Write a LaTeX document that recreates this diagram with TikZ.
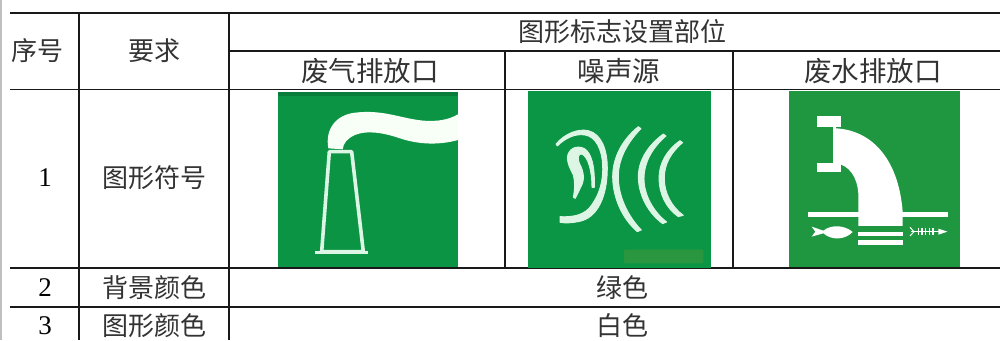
\documentclass[tikz,border=0pt]{standalone}
\usepackage{fontspec}
\setmainfont{Liberation Serif}
\newfontfamily\cjk{Noto Sans CJK SC}
\definecolor{signa}{HTML}{0B9444}
\definecolor{signb}{HTML}{0A9644}
\definecolor{signc}{HTML}{1F9741}
\definecolor{softw}{HTML}{DDF5E4}
\definecolor{dimbar}{HTML}{2A963F}
\tikzset{
  x=1pt,y=-1pt,
  rule/.style={line width=1.4pt,color=black!90},
  cell/.style={inner sep=0pt,font=\fontsize{26}{28}\selectfont\cjk,text=black!80},
  wide/.style={inner sep=0pt,font=\fontsize{27.5}{30}\selectfont\cjk,text=black!80},
  num/.style={inner sep=0pt,font=\fontsize{27}{29}\selectfont,text=black},
  zoomed/.style={x=0.3333pt,y=-0.3333pt},
  earpart/.style={fill=softw,draw=softw,line width=0.9pt,line join=round},
}
\begin{document}
\begin{tikzpicture}
\useasboundingbox (0,0) rectangle (1000,340);
\fill[white] (0,0) rectangle (1000,340);
\fill[black!25] (0,0) rectangle (1.5,340);
% table rules
\draw[rule] (10,13) -- (1000,13);
\draw[rule] (229,51) -- (1000,51);
\draw[rule] (10,89.5) -- (1000,89.5);
\draw[rule] (10,268) -- (1000,268);
\draw[rule] (10,307) -- (1000,307);
\draw[rule] (79,13) -- (79,340);
\draw[rule] (229,13) -- (229,340);
\draw[rule] (505,51) -- (505,268);
\draw[rule] (733,51) -- (733,268);
% sign 1: chimney
\begin{scope}[shift={(260,80)},zoomed]
\fill[signa] (54,36) rectangle (594,560);
\fill[black!45!signa,opacity=.35] (54,36) rectangle (594,48);
\fill[white!97!green] (205,205) .. controls (195,150) and (225,105) .. (285,98)
  .. controls (370,88) and (420,115) .. (490,122)
  .. controls (530,125) and (565,120) .. (594,103)
  -- (594,180) .. controls (540,195) and (480,195) .. (420,175)
  .. controls (370,158) and (320,150) .. (285,165)
  .. controls (262,175) and (250,190) .. (248,208) -- cycle;
\draw[softw,line width=3.6pt,line join=round] (208,215) -- (275,215) -- (310,515) -- (185,515) -- cycle;
\draw[softw,line width=3.6pt] (165,517) -- (325,517);
\end{scope}
% sign 2: ear and sound arcs
\begin{scope}[shift={(510,80)},zoomed]
\fill[signb] (54,32) rectangle (603,563);
\fill[dimbar,rounded corners=2pt] (342,508) rectangle (580,550);
\path[earpart] (138,192) .. controls (165,160) and (205,145) .. (235,152)
  .. controls (275,162) and (292,210) .. (292,265)
  .. controls (292,345) and (265,415) .. (205,425)
  .. controls (185,429) and (165,430) .. (150,427) -- (150,410)
  .. controls (190,412) and (225,405) .. (245,375)
  .. controls (270,340) and (280,300) .. (278,255)
  .. controls (276,210) and (258,170) .. (225,165)
  .. controls (195,160) and (165,175) .. (142,198) -- cycle;
\path[earpart] (172,232) .. controls (175,205) and (200,195) .. (222,205)
  .. controls (245,218) and (255,260) .. (253,322) -- (246,322)
  .. controls (246,275) and (235,230) .. (215,222)
  .. controls (205,220) and (202,235) .. (208,250)
  .. controls (222,275) and (225,300) .. (212,322) -- (196,355) -- (190,352)
  .. controls (195,325) and (195,305) .. (190,285)
  .. controls (180,265) and (172,250) .. (172,232) -- cycle;
\path[earpart] (385,140) -- (393,146) .. controls (345,195) and (325,245) .. (325,290)
  .. controls (325,350) and (355,410) .. (394,450) -- (382,455)
  .. controls (335,415) and (308,350) .. (308,290)
  .. controls (308,235) and (335,180) .. (385,140) -- cycle;
\path[earpart] (460,162) -- (468,168) .. controls (425,205) and (402,250) .. (402,295)
  .. controls (402,345) and (430,395) .. (470,426) -- (458,431)
  .. controls (415,400) and (385,345) .. (385,290)
  .. controls (385,240) and (415,195) .. (460,162) -- cycle;
\path[earpart] (510,182) -- (518,188) .. controls (480,220) and (463,255) .. (463,295)
  .. controls (463,340) and (485,380) .. (520,406) -- (505,410)
  .. controls (468,385) and (447,340) .. (447,295)
  .. controls (447,250) and (470,210) .. (510,182) -- cycle;
\end{scope}
% sign 3: discharge pipe
\begin{scope}[shift={(770,80)},zoomed]
\fill[signc] (57,32) rectangle (570,560);
\fill[white] (140,108) rectangle (212,140);
\fill[white] (140,248) rectangle (212,275);
\fill[white] (190,135) rectangle (197,252);
\fill[white] (197,145) .. controls (300,150) and (385,230) .. (398,395)
  -- (398,438) -- (265,438) -- (265,340)
  .. controls (262,295) and (240,255) .. (197,250) -- cycle;
\fill[white] (115,395) rectangle (535,412);
\fill[white] (265,456) rectangle (398,468);
\fill[white] (265,481) rectangle (398,495);
% fish
\fill[white] (125,440) -- (160,452) .. controls (185,432) and (225,436) .. (248,456)
  .. controls (225,480) and (185,482) .. (160,460) -- (125,470) -- (136,455) -- cycle;
% skeleton
\draw[white,line width=1pt] (424,455) -- (510,455);
\draw[white,line width=1pt] (420,442) -- (432,455) -- (420,468);
\foreach \sx in {445,456,467,478,489}{\draw[white,line width=1.1pt] (\sx,444) -- (\sx,466);}
\fill[white] (505,446) -- (532,455) -- (505,464) -- cycle;
\end{scope}
% text
\node[cell] (h1) at (37.5,51) {序号};
\node[cell] (h2) at (154.5,51) {要求};
\node[cell] (h3) at (622.5,31.5) {图形标志设置部位};
\node[wide] (c1) at (370,71) {废气排放口};
\node[wide] (c2) at (619,71) {噪声源};
\node[wide] (c3) at (873,71) {废水排放口};
\node[num] (n1) at (45,178) {1};
\node[cell] (r1) at (154,178) {图形符号};
\node[num] (n2) at (45,288) {2};
\node[cell] (r2) at (154,288) {背景颜色};
\node[cell] (v2) at (622,288) {绿色};
\node[num] (n3) at (45,325.5) {3};
\node[cell] (r3) at (154,325.5) {图形颜色};
\node[cell] (v3) at (622,325.5) {白色};
\end{tikzpicture}
\end{document}
